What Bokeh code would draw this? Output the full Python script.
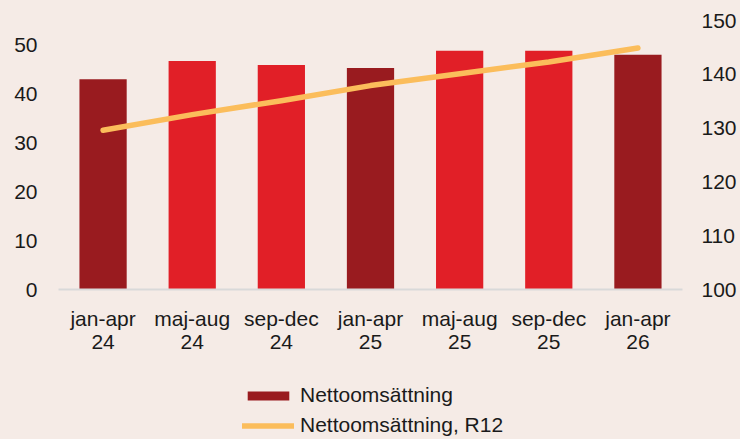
from bokeh.plotting import figure
from bokeh.layouts import column
from bokeh.models import Range1d, LinearAxis, FixedTicker, Legend, LegendItem, ColumnDataSource
from bokeh.embed import file_html
from bokeh.resources import INLINE

categories = ["jan-apr\n24", "maj-aug\n24", "sep-dec\n24", "jan-apr\n25",
              "maj-aug\n25", "sep-dec\n25", "jan-apr\n26"]
net_sales = [43.0, 46.7, 45.9, 45.3, 48.8, 48.8, 48.0]
net_sales_r12 = [129.6, 132.5, 135.1, 137.9, 140.1, 142.3, 144.9]
bar_colors = ["#991B1F", "#E11F27", "#E11F27", "#991B1F", "#E11F27", "#E11F27", "#991B1F"]
left_ticks = [0, 10, 20, 30, 40, 50]
right_ticks = [100, 110, 120, 130, 140, 150]
legend_labels = ["Nettoomsättning", "Nettoomsättning, R12"]

BG = "#F5EBE6"
FONT = "Liberation Sans"
FS = "21px"
TXT = "#1a1a1a"
DARK = "#991B1F"
LINE = "#FBBD5B"

src = ColumnDataSource(dict(x=categories, y=net_sales, c=bar_colors))
lsrc = ColumnDataSource(dict(x=categories, y=net_sales_r12))

p = figure(x_range=categories, y_range=Range1d(0, 55),
           frame_width=624, frame_height=269,
           min_border_left=58, min_border_right=57, min_border_top=20, min_border_bottom=80,
           output_backend="svg", toolbar_location=None,
           background_fill_color=BG, border_fill_color=BG, outline_line_color=None)
p.extra_y_ranges = {"r": Range1d(100, 150)}

p.vbar(x="x", top="y", width=0.53, fill_color="c", line_color=None, source=src)
p.line(x="x", y="y", y_range_name="r", line_color=LINE, line_width=5.5,
       line_cap="round", line_join="round", source=lsrc)

p.xgrid.grid_line_color = None
p.ygrid.grid_line_color = None

for ax in p.yaxis:
    ax.ticker = FixedTicker(ticks=left_ticks)
    ax.axis_line_color = None
    ax.major_tick_line_color = None
    ax.minor_tick_line_color = None
    ax.major_label_text_font = FONT
    ax.major_label_text_font_size = FS
    ax.major_label_text_color = TXT
    ax.major_label_standoff = 15

rax = LinearAxis(y_range_name="r", ticker=FixedTicker(ticks=right_ticks))
rax.axis_line_color = None
rax.major_tick_line_color = None
rax.minor_tick_line_color = None
rax.major_label_text_font = FONT
rax.major_label_text_font_size = FS
rax.major_label_text_color = TXT
rax.major_label_standoff = 13
p.add_layout(rax, "right")

xa = p.xaxis[0]
xa.axis_line_color = "#D9D9D9"
xa.axis_line_width = 2
xa.major_tick_line_color = None
xa.minor_tick_line_color = None
xa.major_label_text_font = FONT
xa.major_label_text_font_size = FS
xa.major_label_text_color = TXT
xa.major_label_standoff = 11
xa.major_label_text_line_height = 1.0

# legend panel below the chart (off-range placeholder renderers only feed the legend)
lg = figure(x_range=Range1d(0, 1), y_range=Range1d(0, 1), width=739, height=69,
            min_border=0, output_backend="svg", toolbar_location=None,
            x_axis_location=None, y_axis_location=None,
            background_fill_color=BG, border_fill_color=BG, outline_line_color=None)
lg.xgrid.grid_line_color = None
lg.ygrid.grid_line_color = None
dummy = ColumnDataSource(dict(x=[-10, -9], y=[-10, -10]))
rb = lg.vbar(x="x", top="y", width=0.5, fill_color=DARK, line_color=None, source=dummy)
rl = lg.line(x="x", y="y", line_color=LINE, line_width=5.5, line_cap="round", source=dummy)

legend = Legend(items=[LegendItem(label=legend_labels[0], renderers=[rb]),
                       LegendItem(label=legend_labels[1], renderers=[rl])],
                location=(184, 0), orientation="vertical",
                background_fill_alpha=0, border_line_color=None,
                label_text_font=FONT, label_text_font_size=FS, label_text_color=TXT,
                glyph_width=52, glyph_height=11, label_height=26, spacing=4,
                label_standoff=6, padding=0, margin=0)
lg.add_layout(legend, "center")

layout = column(p, lg, spacing=0)
html = file_html(layout, INLINE)
html = html.replace("</head>", "<style>html,body{background:%s;}</style></head>" % BG, 1)
open("out.html", "w").write(html)
